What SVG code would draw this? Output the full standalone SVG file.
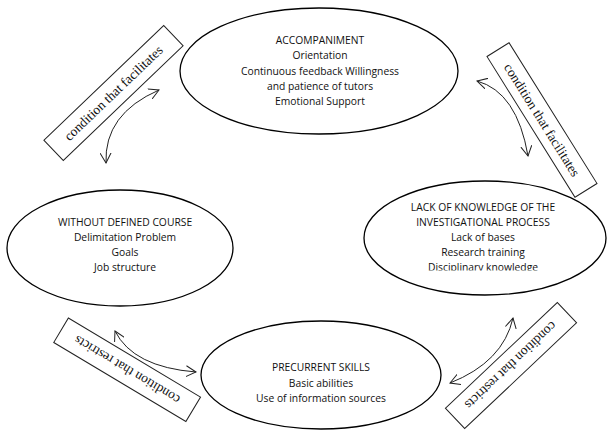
<svg xmlns="http://www.w3.org/2000/svg" width="612" height="433" viewBox="0 0 612 433">
<style>
.node ellipse{fill:#fff;stroke:#000;stroke-width:1.3}
.node text{font-family:"Open Sans","Liberation Sans",Arial,sans-serif;font-size:10.3px;fill:#111;text-anchor:middle}
.lbl rect{fill:#fff;stroke:#222;stroke-width:1}
.lbl text{font-family:"Liberation Serif","Times New Roman",serif;font-size:13.5px;fill:#111;text-anchor:middle}
.conn path{fill:none;stroke:#222;stroke-width:1;marker-start:url(#ah);marker-end:url(#ah)}
</style>
<defs>
<marker id="ah" markerUnits="userSpaceOnUse" markerWidth="12" markerHeight="12" refX="10" refY="5.5" orient="auto-start-reverse" viewBox="0 0 12 11">
<path d="M0,0 L10,5.5 L0,11" fill="none" stroke="#222" stroke-width="1"/>
</marker>
<clipPath id="clipR"><rect x="360" y="150" width="252" height="120.5"/></clipPath>
</defs>
<rect width="612" height="433" fill="#fff"/>

<g id="accompaniment" class="node">
<ellipse cx="319" cy="71" rx="139" ry="63"/>
<text x="320" y="44">ACCOMPANIMENT</text>
<text x="320" y="59">Orientation</text>
<text x="320" y="75">Continuous feedback Willingness</text>
<text x="320" y="90">and patience of tutors</text>
<text x="320" y="105">Emotional Support</text>
</g>

<g id="without-defined-course" class="node">
<ellipse cx="120" cy="248" rx="113" ry="58"/>
<text x="125" y="226">WITHOUT DEFINED COURSE</text>
<text x="125" y="241">Delimitation Problem</text>
<text x="125" y="256">Goals</text>
<text x="125" y="271">Job structure</text>
</g>

<g id="lack-of-knowledge" class="node">
<ellipse cx="485" cy="238" rx="121" ry="57"/>
<g clip-path="url(#clipR)">
<text x="483" y="211">LACK OF KNOWLEDGE OF THE</text>
<text x="483" y="226">INVESTIGATIONAL PROCESS</text>
<text x="483" y="241">Lack of bases</text>
<text x="483" y="256">Research training</text>
<text x="483" y="271">Disciplinary knowledge</text>
</g>
</g>

<g id="precurrent-skills" class="node">
<ellipse cx="321" cy="375" rx="120" ry="54"/>
<text x="321" y="371">PRECURRENT SKILLS</text>
<text x="321" y="387">Basic abilities</text>
<text x="321" y="402">Use of information sources</text>
</g>

<g id="connectors" class="conn">
<path d="M106,163 Q104,114 159,90"/>
<path d="M477,81 Q517,92 528,156"/>
<path d="M450,383 Q503,362 513,318"/>
<path d="M115,331 Q133,367 196,372"/>
</g>

<g id="labels" class="lbl">
<g id="label-tl" transform="translate(113.5,93) rotate(-43.8)">
<rect x="-83" y="-14" width="166" height="28"/>
<text x="0" y="4.5">condition that facilitates</text>
</g>
<g id="label-tr" transform="translate(542,120) rotate(58)">
<rect x="-83" y="-13" width="166" height="26"/>
<text x="0" y="4.5">condition that facilitates</text>
</g>
<g id="label-br" transform="translate(511,365.5) rotate(136.6)">
<rect x="-77" y="-14" width="154" height="28"/>
<text x="0" y="4.5">condition that restricts</text>
</g>
<g id="label-bl" transform="translate(127,370) rotate(-149.1)">
<rect x="-77" y="-14" width="154" height="28.5"/>
<text x="0" y="4.5">condition that restricts</text>
</g>
</g>
</svg>
